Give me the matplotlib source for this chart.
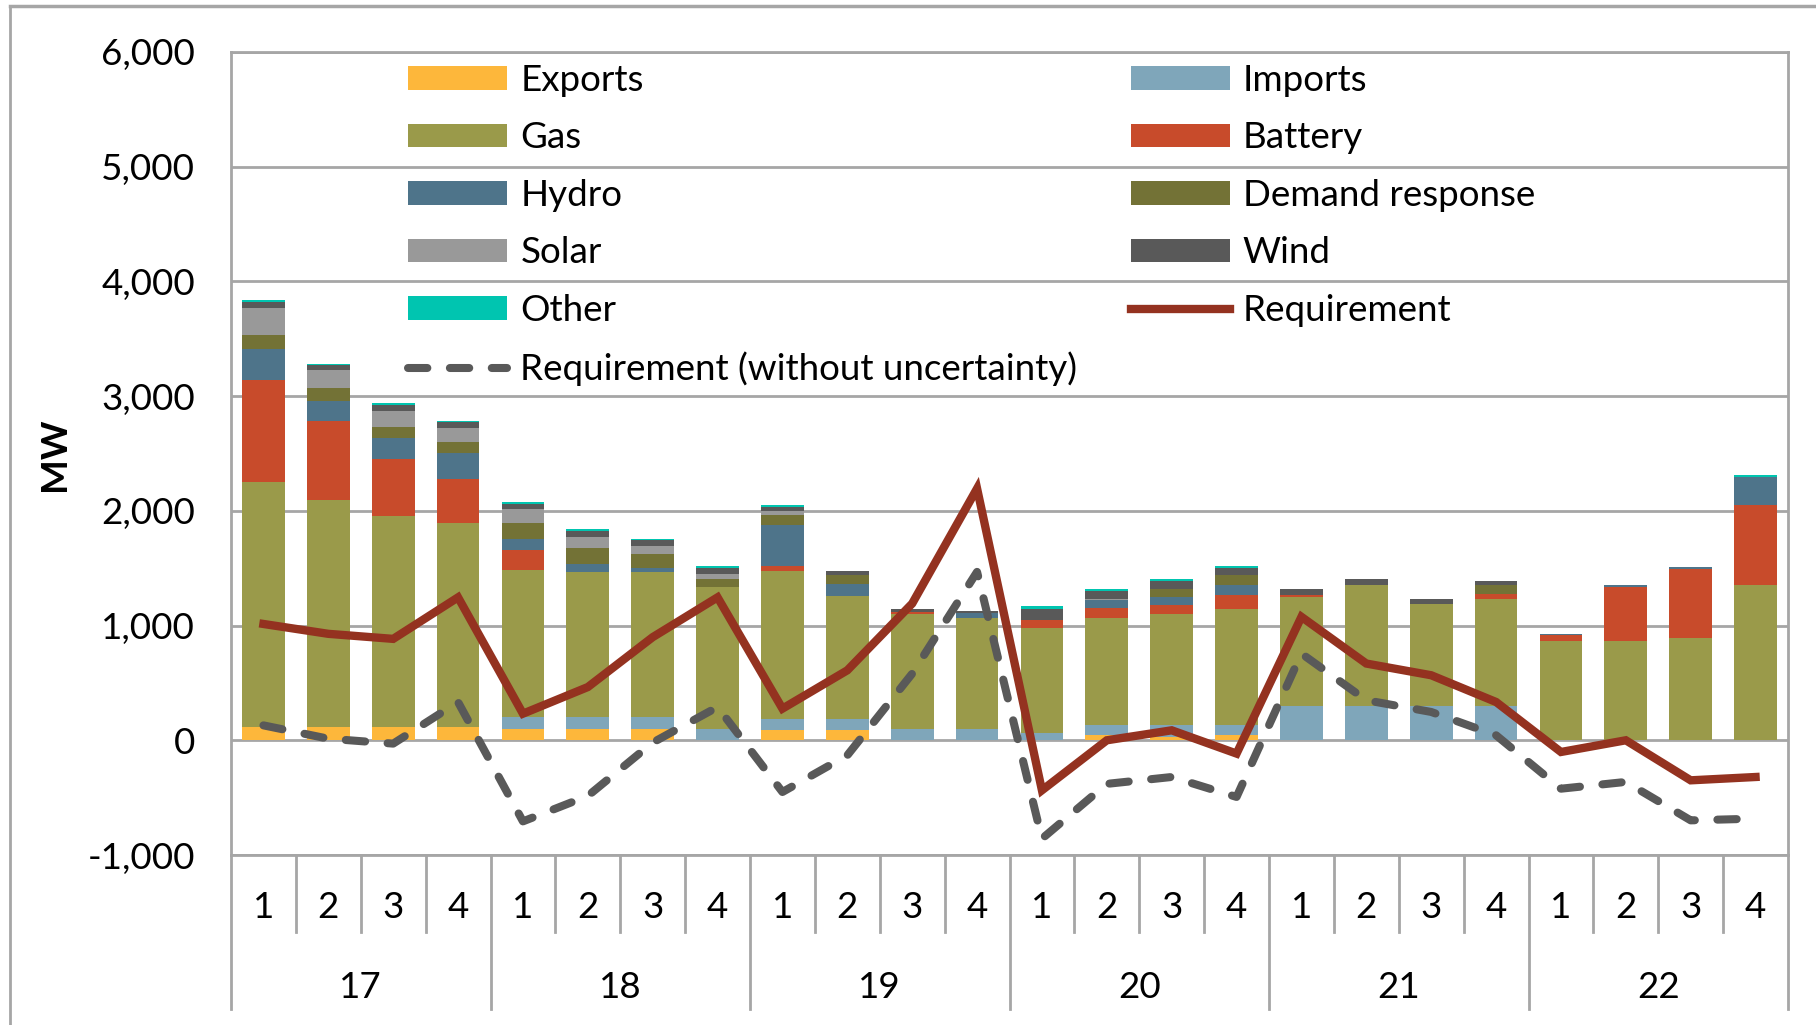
import matplotlib.pyplot as plt
from matplotlib.lines import Line2D
import numpy as np

plt.rcParams['font.family'] = ['Lato', 'DejaVu Sans']

# --- data (MW), quarters 1-4 for years 17..22 ---
years = ['17', '18', '19', '20', '21', '22']
quarters = ['1', '2', '3', '4']

exports = [115, 115, 115, 115, 100, 100, 100, 0, 87, 87, 0, 0,
           0, 44, 29, 44, 0, 0, 0, 0, 0, 0, 0, 0]
imports = [0, 0, 0, 0, 100, 100, 100, 100, 99, 99, 100, 100,
           64, 87, 102, 87, 302, 302, 302, 302, 0, 0, 0, 0]
gas = [2135, 1980, 1843, 1777, 1287, 1270, 1270, 1233, 1288, 1070, 1005, 970,
       919, 936, 974, 1017, 948, 1056, 884, 933, 863, 863, 895, 1358]
battery = [893, 692, 493, 388, 171, 0, 0, 0, 49, 0, 14, 0,
           69, 87, 78, 122, 20, 0, 0, 38, 53, 474, 599, 691]
hydro = [270, 169, 186, 220, 99, 63, 31, 0, 358, 104, 0, 40,
         0, 67, 67, 88, 0, 0, 0, 0, 14, 18, 15, 248]
demand_response = [120, 118, 98, 99, 133, 139, 119, 70, 81, 85, 0, 0,
                   0, 0, 73, 81, 0, 0, 0, 85, 0, 0, 0, 0]
solar = [235, 157, 139, 122, 122, 102, 73, 46, 38, 0, 0, 0,
         0, 14, 0, 0, 0, 0, 0, 0, 0, 0, 0, 0]
wind = [52, 38, 53, 52, 52, 52, 52, 52, 35, 29, 29, 20,
        96, 67, 67, 67, 50, 49, 49, 32, 0, 0, 0, 0]
other = [15, 11, 14, 14, 14, 14, 14, 14, 14, 0, 0, 0,
         20, 18, 17, 17, 0, 0, 0, 0, 0, 0, 0, 14]

requirement = [1014, 928, 884, 1246, 232, 464, 899, 1246, 276, 610, 1192, 2195,
               -436, 0, 87, -116, 1076, 669, 567, 334, -102, 0, -349, -320]
requirement_no_unc = [130, 14, -29, 333, -707, -485, -20, 290, -451, -131, 581, 1468,
                      -858, -380, -320, -494, 756, 349, 247, 44, -422, -363, -698, -683]

series = [
    ('Exports', exports, '#FDB73B'),
    ('Imports', imports, '#7FA6BA'),
    ('Gas', gas, '#9A9A4A'),
    ('Battery', battery, '#C84B2B'),
    ('Hydro', hydro, '#4E748A'),
    ('Demand response', demand_response, '#737236'),
    ('Solar', solar, '#999999'),
    ('Wind', wind, '#595959'),
    ('Other', other, '#00C5B0'),
]

grid_col = '#A6A6A6'
fs = 26.5

fig = plt.figure(figsize=(18.16, 10.25), dpi=100)
ax = fig.add_axes([231 / 1816, 1 - 855 / 1025, (1788 - 231) / 1816, (855 - 52) / 1025])

x = np.arange(len(gas))
bottom = np.zeros(len(gas))
handles = {}
for name, vals, col in series:
    vals = np.array(vals, dtype=float)
    b = ax.bar(x, vals, 0.66, bottom=bottom, color=col, zorder=2)
    handles[name] = b
    bottom += vals

l1, = ax.plot(x, requirement, color='#943220', lw=6, zorder=4,
              solid_joinstyle='miter', label='Requirement')
l2, = ax.plot(x, requirement_no_unc, color='#595959', lw=5.8, zorder=3,
              dashes=(2.4, 2.8), dash_capstyle='round', label='Requirement (without uncertainty)')

ax.set_xlim(-0.5, len(gas) - 0.5)
ax.set_ylim(-1000, 6000)
ax.set_yticks(range(-1000, 6001, 1000))
ax.set_yticklabels([f'{v:,}' for v in range(-1000, 6001, 1000)], fontsize=fs)
ax.tick_params(axis='y', length=0, pad=26)
ax.set_xticks([])
ax.yaxis.grid(True, color=grid_col, lw=2)
ax.set_axisbelow(True)
for s in ax.spines.values():
    s.set_color(grid_col)
    s.set_linewidth(2)

fig.text(54 / 1816, 1 - 454 / 1025, 'MW', rotation=90, ha='center', va='center',
         fontsize=fs, fontweight='bold')

# category axis: quarter / year separators and labels
trans = ax.get_xaxis_transform()
h = (855 - 52)
for i in range(len(gas) + 1):
    xb = i - 0.5
    if i % 4 == 0:
        ax.plot([xb, xb], [0, -(1009 - 855) / h], transform=trans, color=grid_col,
                lw=2, clip_on=False)
    else:
        ax.plot([xb, xb], [0, -(932 - 855) / h], transform=trans, color=grid_col,
                lw=2, clip_on=False)
for i in range(len(gas)):
    ax.text(i, -(907 - 855) / h, quarters[i % 4], transform=trans, ha='center',
            va='center', fontsize=fs)
for j, yr in enumerate(years):
    ax.text(j * 4 + 1.5, -(987 - 855) / h, yr, transform=trans, ha='center',
            va='center', fontsize=fs)

# legend (column-major fill gives row pairs)
order = ['Exports', 'Gas', 'Hydro', 'Solar', 'Other']
order2 = ['Imports', 'Battery', 'Demand response', 'Wind']
hl = [handles[n] for n in order] + [l2] + [handles[n] for n in order2] + [l1]
labels = order + ['Requirement (without uncertainty)'] + order2 + ['Requirement']
ax.legend(hl, labels, ncol=2, loc='upper left', bbox_to_anchor=(408 / 1816, 1 - 64 / 1025),
          bbox_transform=fig.transFigure, frameon=False, fontsize=fs,
          handlelength=2.7, handleheight=0.6, handletextpad=0.35, labelspacing=0.665,
          columnspacing=1.45, borderpad=0, borderaxespad=0)

# outer chart border (top and left)
fig.add_artist(Line2D([10 / 1816, 10 / 1816], [0, 1 - 6 / 1025], color=grid_col, lw=2))
fig.add_artist(Line2D([10 / 1816, 1], [1 - 6 / 1025, 1 - 6 / 1025], color=grid_col, lw=2.5))

fig.savefig('out.png', dpi=100)
